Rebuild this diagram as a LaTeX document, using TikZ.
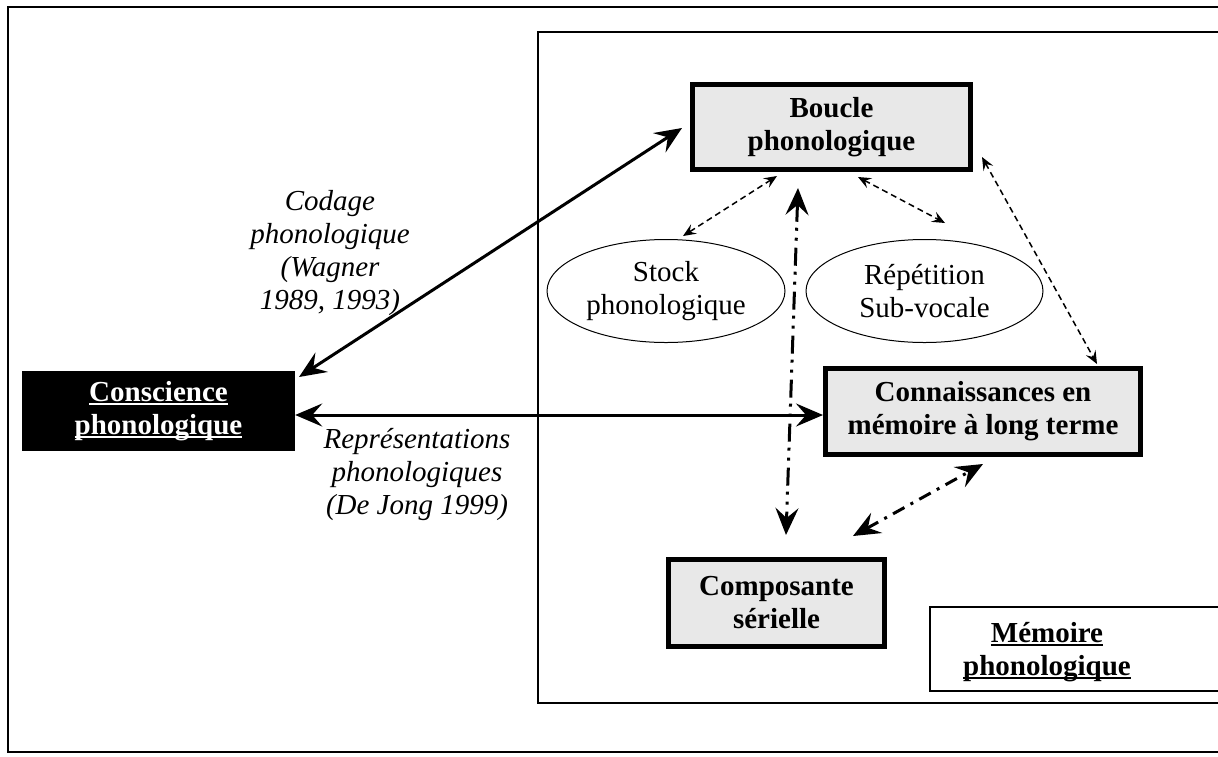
\documentclass[tikz,border=0pt]{standalone}
\usepackage{fontspec}
\setmainfont{Liberation Serif}
\usetikzlibrary{arrows.meta,shapes.geometric,calc}
\definecolor{boxgray}{RGB}{232,232,232}
\newcommand\myul[1]{\setbox0\hbox{#1}\rlap{\rule[-3.5pt]{\wd0}{1.6pt}}\box0}
\tikzset{
  Big/.tip={Stealth[length=27pt,width=23pt,inset=10pt]},
  Small/.tip={Stealth[length=13pt,width=11pt,inset=5pt]},
}
\begin{document}
\begin{tikzpicture}[x=1pt,y=-1pt,
  txt/.style={font=\fontsize{29}{33}\selectfont, align=center, inner sep=0pt},
  bigbox/.style={draw, line width=5pt, fill=boxgray, align=center, inner sep=0pt, font=\fontsize{29}{33}\selectfont\bfseries},
  oval/.style={txt, draw, ellipse, line width=1pt},
  lab/.style={align=center, inner sep=0pt, font=\fontsize{29}{33}\selectfont\itshape},
  solidarrow/.style={line width=3pt, {Big}-{Big}},
  dashdotdot/.style={line width=3pt, {Big}-{Big}, dash pattern=on 18pt off 6pt on 3pt off 7pt on 3pt off 7pt},
  dashdot/.style={line width=3pt, {Big}-{Big}, dash pattern=on 13pt off 7pt on 3pt off 7pt},
  smalldash/.style={line width=1.5pt, {Small}-{Small}, dash pattern=on 6pt off 4pt},
]
\useasboundingbox (0,0) rectangle (1218,756);
\clip (0,0) rectangle (1218,756);
% frames
\draw[line width=2.5pt] (8,7) rectangle (1240,752);
\draw[line width=1.5pt] (538,32) rectangle (1240,703);
\draw[line width=1.5pt] (930,607) rectangle (1240,691);
\node[txt, font=\fontsize{29}{33}\selectfont\bfseries] (memoire) at (1047,652) {\myul{Mémoire}\\\myul{phonologique}};
% main nodes
\node[bigbox, minimum width=278, minimum height=85] (boucle) at (831.5,127) {Boucle\\phonologique};
\node[bigbox, minimum width=315, minimum height=86] (conn) at (983,411.5) {Connaissances en\\mémoire à long terme};
\node[bigbox, minimum width=216, minimum height=87] (comp) at (776.5,603) {Composante\\sérielle};
\node[fill=black, text=white, align=center, inner sep=0pt, minimum width=273, minimum height=80, font=\fontsize{29}{33}\selectfont\bfseries] (consc) at (158.5,411) {\myul{Conscience}\\\myul{phonologique}};
\node[oval, minimum width=238, minimum height=103] (stock) at (666,291) {Stock\\phonologique};
\node[oval, minimum width=237, minimum height=103] (rep) at (924.5,291) {Répétition\\Sub-vocale};
% labels
\node[lab] (codage) at (330,253) {Codage\\phonologique\\(Wagner\\1989, 1993)};
\node[lab] (repr) at (417,475) {Représentations\\phonologiques\\(De Jong 1999)};
% connector end points
\coordinate (c1) at (299,377);
\coordinate (c2) at (682,128);
\coordinate (v1) at (798,188);
\coordinate (v2) at (786,535);
\coordinate (d1) at (853,536);
\coordinate (d2) at (983,464);
\coordinate (s1) at (777,176);
\coordinate (s2) at (683,236);
\coordinate (r1) at (858,177);
\coordinate (r2) at (945,223);
\coordinate (k1) at (982,157);
\coordinate (k2) at (1097,364);
% connectors
\draw[solidarrow] (c1) -- (c2);
\draw[solidarrow] ([yshift=-4pt]consc.east) -- ([yshift=-4pt]consc.east -| conn.west);
\draw[dashdotdot] (v1) -- (v2);
\draw[dashdot] (d1) -- (d2);
\draw[smalldash] (s1) -- (s2);
\draw[smalldash] (r1) -- (r2);
\draw[smalldash] (k1) -- (k2);
\end{tikzpicture}
\end{document}
